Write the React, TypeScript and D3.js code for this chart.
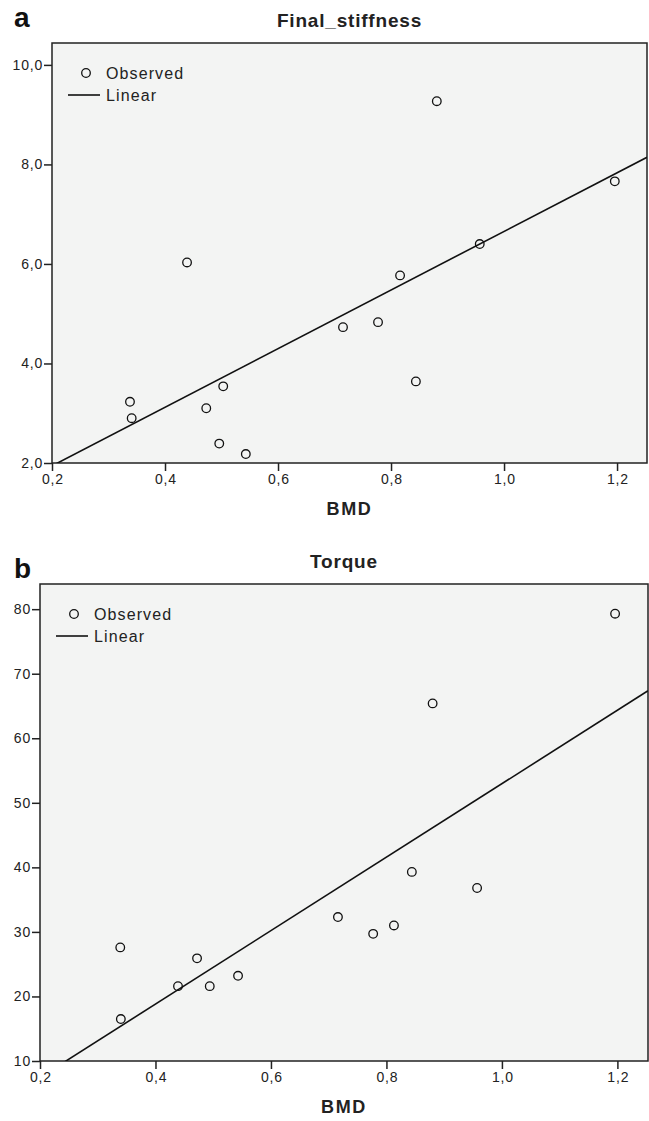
import React, { useEffect, useRef } from "react";
import * as d3 from "d3";

// Panel a: Final_stiffness vs BMD
const bmdA = [0.881, 1.196, 0.957, 0.816, 0.439, 0.715, 0.777, 0.844, 0.338, 0.341, 0.503, 0.473, 0.496, 0.543];
const stiffness = [9.27, 7.66, 6.40, 5.77, 6.03, 4.73, 4.83, 3.64, 3.23, 2.90, 3.54, 3.10, 2.39, 2.18];
const stiffnessFit = { intercept: 0.764, slope: 5.89 };
const stiffnessTicks = [2, 4, 6, 8, 10];

// Panel b: Torque vs BMD
const bmdB = [1.196, 0.880, 0.844, 0.957, 0.716, 0.813, 0.777, 0.339, 0.472, 0.543, 0.439, 0.494, 0.340];
const torque = [79.3, 65.4, 39.3, 36.8, 32.3, 31.0, 29.7, 27.6, 25.9, 23.2, 21.6, 21.6, 16.5];
const torqueFit = { intercept: -3.94, slope: 56.9 };
const torqueTicks = [10, 20, 30, 40, 50, 60, 70, 80];

const bmdTicks = [0.2, 0.4, 0.6, 0.8, 1.0, 1.2];

const FONT = "'Liberation Sans', Arial, sans-serif";

type Panel = {
  letter: string;
  letterY: number;
  title: string;
  xs: number[];
  ys: number[];
  fit: { intercept: number; slope: number };
  yTicks: number[];
  yFmt: (v: number) => string;
  xDomain: [number, number];
  yDomain: [number, number];
  box: { left: number; right: number; top: number; bottom: number };
};

const comma1 = (v: number) => d3.format(".1f")(v).replace(".", ",");

const panels: Panel[] = [
  {
    letter: "a",
    letterY: 27,
    title: "Final_stiffness",
    xs: bmdA,
    ys: stiffness,
    fit: stiffnessFit,
    yTicks: stiffnessTicks,
    yFmt: comma1,
    xDomain: [0.2, 1.253],
    yDomain: [2, 10.44],
    box: { left: 52, right: 647, top: 43, bottom: 463 },
  },
  {
    letter: "b",
    letterY: 578,
    title: "Torque",
    xs: bmdB,
    ys: torque,
    fit: torqueFit,
    yTicks: torqueTicks,
    yFmt: (v) => String(v),
    xDomain: [0.2, 1.253],
    yDomain: [10, 83.9],
    box: { left: 40, right: 648, top: 584, bottom: 1061 },
  },
];

function drawPanel(svg: d3.Selection<SVGSVGElement, unknown, null, undefined>, p: Panel) {
  const { left, right, top, bottom } = p.box;
  const x = d3.scaleLinear().domain(p.xDomain).range([left, right]);
  const y = d3.scaleLinear().domain(p.yDomain).range([bottom, top]);
  const g = svg.append("g");

  g.append("rect")
    .attr("x", left).attr("y", top)
    .attr("width", right - left).attr("height", bottom - top)
    .attr("fill", "#f3f4f3").attr("stroke", "#222").attr("stroke-width", 1.5);

  const clipId = "clip-" + p.letter;
  g.append("clipPath").attr("id", clipId)
    .append("rect").attr("x", left).attr("y", top)
    .attr("width", right - left).attr("height", bottom - top);

  // fit line
  const lineData = p.xDomain.map(v => [v, p.fit.intercept + p.fit.slope * v] as [number, number]);
  g.append("path")
    .attr("clip-path", `url(#${clipId})`)
    .attr("d", d3.line<[number, number]>().x(d => x(d[0])).y(d => y(d[1]))(lineData))
    .attr("fill", "none").attr("stroke", "#111").attr("stroke-width", 1.6);

  // observed points
  g.selectAll("circle.obs").data(p.xs.map((v, i) => [v, p.ys[i]]))
    .join("circle").attr("class", "obs")
    .attr("cx", d => x(d[0])).attr("cy", d => y(d[1])).attr("r", 4.3)
    .attr("fill", "none").attr("stroke", "#111").attr("stroke-width", 1.3);

  // axes
  const xAxis = d3.axisBottom(x).tickValues(bmdTicks).tickFormat(v => comma1(+v)).tickSize(8).tickSizeOuter(0);
  const yAxis = d3.axisLeft(y).tickValues(p.yTicks).tickFormat(v => p.yFmt(+v)).tickSize(8).tickSizeOuter(0);
  const gx = g.append("g").attr("transform", `translate(0,${bottom})`).call(xAxis);
  const gy = g.append("g").attr("transform", `translate(${left},0)`).call(yAxis);
  [gx, gy].forEach(a => {
    a.select(".domain").remove();
    a.selectAll("line").attr("stroke", "#222").attr("stroke-width", 1.5);
    a.selectAll("text").attr("font-family", FONT).attr("font-size", 14)
      .attr("letter-spacing", 0.8).attr("fill", "#222");
  });
  gy.selectAll("text").attr("x", -9);
  gx.selectAll("text").attr("y", 11).attr("dx", 0.4);

  // titles
  const cx = (left + right) / 2;
  g.append("text").attr("x", cx).attr("y", top - 16.5)
    .attr("text-anchor", "middle").attr("font-family", FONT).attr("font-weight", "bold")
    .attr("font-size", 19).attr("letter-spacing", 0.8).attr("fill", "#222").text(p.title);
  g.append("text").attr("x", 14).attr("y", p.letterY)
    .attr("font-family", FONT).attr("font-weight", "bold")
    .attr("font-size", 28).attr("fill", "#111").text(p.letter);
  g.append("text").attr("x", cx).attr("y", bottom + 52)
    .attr("text-anchor", "middle").attr("font-family", FONT).attr("font-weight", "bold")
    .attr("font-size", 18).attr("letter-spacing", 1.6).attr("fill", "#222").text("BMD");

  // legend
  const lx = left + 16;
  const ly = top + 30;
  g.append("circle").attr("cx", lx + 18).attr("cy", ly).attr("r", 4.3)
    .attr("fill", "none").attr("stroke", "#111").attr("stroke-width", 1.3);
  g.append("text").attr("x", lx + 38).attr("y", ly + 6)
    .attr("font-family", FONT).attr("font-size", 16).attr("letter-spacing", 1.1)
    .attr("fill", "#222").text("Observed");
  g.append("line").attr("x1", lx).attr("x2", lx + 32).attr("y1", ly + 22).attr("y2", ly + 22)
    .attr("stroke", "#111").attr("stroke-width", 1.6);
  g.append("text").attr("x", lx + 38).attr("y", ly + 28)
    .attr("font-family", FONT).attr("font-size", 16).attr("letter-spacing", 1.1)
    .attr("fill", "#222").text("Linear");
}

export default function App() {
  const ref = useRef<SVGSVGElement>(null);

  useEffect(() => {
    if (!ref.current) return;
    const svg = d3.select(ref.current);
    svg.selectAll("*").remove();
    panels.forEach(p => drawPanel(svg, p));
  }, []);

  return (
    <svg
      ref={ref}
      width={649}
      height={1121}
      style={{ position: "absolute", left: 0, top: 0, background: "#fff" }}
    />
  );
}
